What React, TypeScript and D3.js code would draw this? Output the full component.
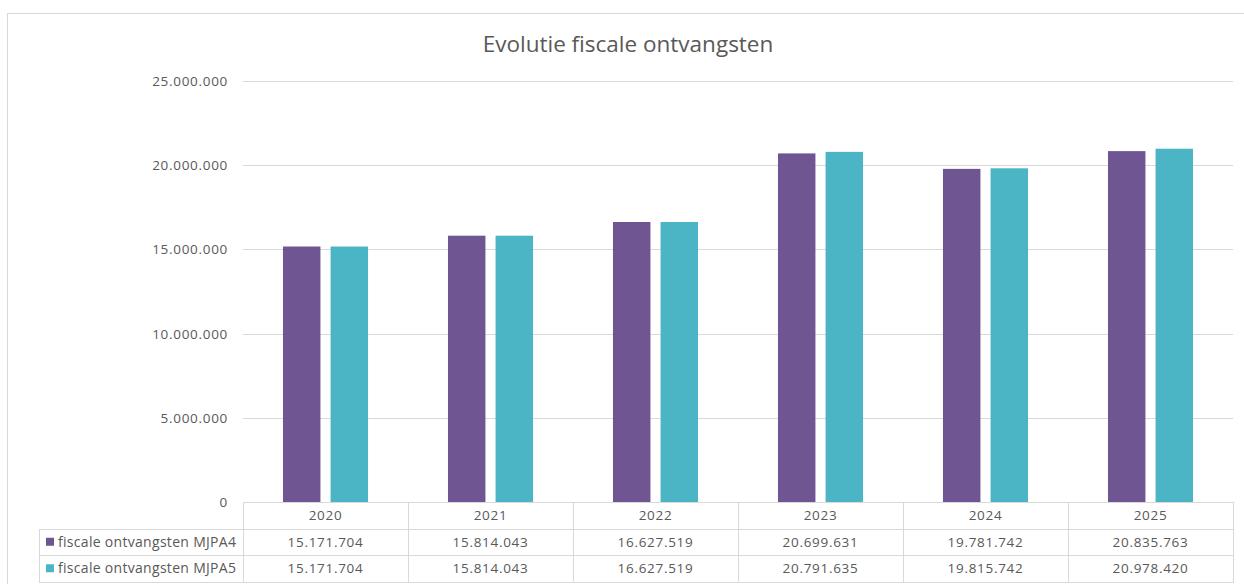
import React from "react";
import * as d3 from "d3";

const years = ["2020", "2021", "2022", "2023", "2024", "2025"];
const seriesNames = ["fiscale ontvangsten MJPA4", "fiscale ontvangsten MJPA5"];
const mjpa4 = [15171704, 15814043, 16627519, 20699631, 19781742, 20835763];
const mjpa5 = [15171704, 15814043, 16627519, 20791635, 19815742, 20978420];
const yTicks = [0, 5000000, 10000000, 15000000, 20000000, 25000000];
const colors = ["#6f5592", "#4bb5c6"];
const title = "Evolutie fiscale ontvangsten";

const fmt = (v: number) => d3.format(",")(v).replace(/,/g, ".");

export default function App() {
  const W = 1244, H = 584;
  const left = 243, right = 1233, top = 81, bottom = 502;
  const rowH = 26.5;
  const tableLeft = 39;
  const font = "'Open Sans', 'Segoe UI', sans-serif";
  const textColor = "#595959";
  const gridColor = "#d9d9d9";
  const numSize = 13.5;
  const numSpacing = 0.7;

  const x = d3.scaleBand<string>().domain(years).range([left, right]);
  const y = d3.scaleLinear().domain([0, 25000000]).range([bottom, top]);
  const inner = d3.scaleBand<number>().domain([0, 1]).range([0, x.bandwidth()]).paddingInner(0.213).paddingOuter(0.84);

  const series = [mjpa4, mjpa5];

  return (
    <svg width={W} height={H} style={{ position: "absolute", left: 0, top: 0, background: "#fff" }}>
      <rect x={7.5} y={13.5} width={1260} height={600} fill="#fff" stroke="#d9d9d9" />
      <text x={628} y={52} textAnchor="middle" fontFamily={font} fontSize={22.5} fill={textColor}>{title}</text>
      {yTicks.map((t) => (
        <g key={t}>
          {t > 0 && <line x1={left} x2={right} y1={Math.round(y(t)) + 0.5} y2={Math.round(y(t)) + 0.5} stroke={gridColor} />}
          <text x={228} y={y(t) + 5} textAnchor="end" fontFamily={font} fontSize={numSize} letterSpacing={numSpacing} fill={textColor}>{fmt(t)}</text>
        </g>
      ))}
      {years.map((yr, i) =>
        series.map((s, k) => (
          <rect key={yr + k} x={(x(yr) as number) + (inner(k) as number)} y={y(s[i])} width={inner.bandwidth()} height={bottom - y(s[i])} fill={colors[k]} />
        ))
      )}
      {/* table */}
      <g stroke={gridColor} fill="none">
        <line x1={left} x2={right} y1={bottom + 0.5} y2={bottom + 0.5} />
        {[1, 2, 3].map((r) => (
          <line key={r} x1={tableLeft} x2={right} y1={Math.round(bottom + r * rowH) + 0.5} y2={Math.round(bottom + r * rowH) + 0.5} />
        ))}
        <line x1={tableLeft + 0.5} x2={tableLeft + 0.5} y1={Math.round(bottom + rowH)} y2={Math.round(bottom + 3 * rowH) + 1} />
        {years.map((yr) => (
          <line key={yr} x1={Math.round(x(yr) as number) + 0.5} x2={Math.round(x(yr) as number) + 0.5} y1={bottom} y2={Math.round(bottom + 3 * rowH) + 1} />
        ))}
        <line x1={right + 0.5} x2={right + 0.5} y1={bottom} y2={Math.round(bottom + 3 * rowH) + 1} />
      </g>
      {years.map((yr) => (
        <text key={yr} x={(x(yr) as number) + x.bandwidth() / 2} y={bottom + rowH / 2 + 5} textAnchor="middle" fontFamily={font} fontSize={numSize} letterSpacing={numSpacing} fill={textColor}>{yr}</text>
      ))}
      {series.map((s, k) => (
        <g key={k}>
          <rect x={46} y={bottom + (k + 1.5) * rowH - 4} width={8} height={8} fill={colors[k]} />
          <text x={58} y={bottom + (k + 1.5) * rowH + 5} fontFamily={font} fontSize={14} letterSpacing={0.3} fill={textColor}>{seriesNames[k]}</text>
          {years.map((yr, i) => (
            <text key={yr} x={(x(yr) as number) + x.bandwidth() / 2} y={bottom + (k + 1.5) * rowH + 5} textAnchor="middle" fontFamily={font} fontSize={numSize} letterSpacing={numSpacing} fill={textColor}>{fmt(s[i])}</text>
          ))}
        </g>
      ))}
    </svg>
  );
}
